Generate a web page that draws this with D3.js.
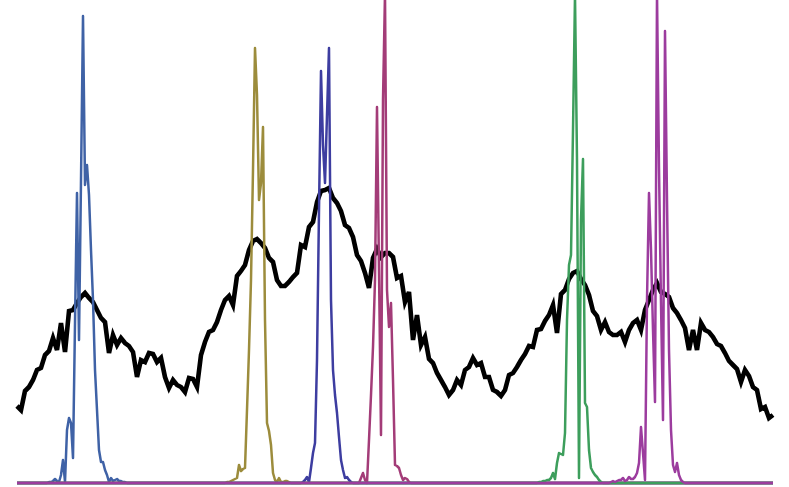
<!DOCTYPE html>
<html>
<head>
<meta charset="utf-8">
<script src="https://cdn.jsdelivr.net/npm/d3@7"></script>
<style>
  html, body { margin: 0; padding: 0; background: #ffffff; }
  svg { display: block; }
</style>
</head>
<body>
<div id="chart"></div>
<script>
// ---- DATA ----
const channelCount = 379;          // channels 0..378
const blackStep = 2;               // black spectrum sampled every 2 channels
const blackCounts = [
  77,73,92,96,103,113,115,128,132,145,
  133,160,131,172,173,180,186,190,185,181,
  173,165,161,130,148,138,145,140,137,131,
  106,123,121,130,129,121,125,106,95,103,
  98,96,91,105,104,96,128,141,151,153,
  161,173,183,187,178,207,212,218,233,242,
  244,240,235,225,221,203,197,197,201,206,
  210,238,236,256,261,281,292,293,295,285,
  280,272,258,255,246,228,222,210,195,225,
  234,226,230,230,226,205,207,181,191,143,
  168,138,146,124,120,110,103,96,88,93,
  103,98,113,116,125,118,120,106,106,93,
  91,87,93,108,110,116,123,129,137,136,
  153,154,162,168,178,150,189,193,204,210,
  212,204,198,188,172,167,153,161,151,148,
  148,151,141,153,160,163,153,173,183,193,
  200,191,189,186,175,170,163,155,133,153,
  133,160,153,151,146,139,137,130,122,118,
  114,101,113,107,96,93,74,76,65,68
];

const blueStart = 14;
const blueCounts = [0,0,1,1,2,4,2,1,8,23,1,53,65,60,25,160,290,143,303,467,298,318,288,233,183,113,73,33,21,21,13,8,1,5,2,3,4,2,2,1,1,0];

const oliveStart = 104;
const oliveCounts = [0,1,1,2,3,4,5,18,12,14,15,73,133,203,313,435,388,283,300,356,163,60,52,38,10,3,1,5,1,1,2,2,1,0];

const indigoStart = 142;
const indigoCounts = [0,1,3,6,1,15,30,40,123,273,412,338,300,368,435,183,113,88,70,46,23,13,5,6,3,1,0];

const crimsonStart = 171;
const crimsonCounts = [0,5,10,3,0,43,88,136,203,376,213,48,383,490,193,156,180,103,18,17,15,8,3,5,4,1,0];

const greenStart = 260;
const greenCounts = [0,1,1,2,2,3,3,5,10,4,20,30,29,28,50,163,218,228,353,488,323,5,263,324,80,76,33,15,11,8,6,3,1,0];

const purpleStart = 295;
const purpleCounts = [0,0,1,2,1,2,3,3,5,2,3,6,4,4,6,10,20,56,30,3,183,290,233,153,81,490,315,180,63,452,283,133,53,18,11,20,8,3,1,0];

const seriesNames = ["blue","olive","indigo","crimson","green","purple"];
const seriesColors = ["#3f62a6","#9c8c3c","#3d3da0","#a33c78","#3d9e5c","#9c3c9e"];
const seriesStarts = [blueStart, oliveStart, indigoStart, crimsonStart, greenStart, purpleStart];
const seriesCounts = [blueCounts, oliveCounts, indigoCounts, crimsonCounts, greenCounts, purpleCounts];

// ---- CHART ----
const width = 789, height = 487;
const svg = d3.select("#chart").append("svg")
  .attr("width", width).attr("height", height)
  .style("background", "#ffffff");

const x = d3.scaleLinear().domain([0, channelCount - 1]).range([17, 773]);
const y = d3.scaleLinear().domain([0, 483]).range([483, 0]);

const line = d3.line()
  .x(d => x(d[0]))
  .y(d => y(d[1]));

// black spectrum
const blackData = blackCounts.map((v, i) => [i * blackStep, v]);
svg.append("path")
  .datum(blackData)
  .attr("d", line)
  .attr("fill", "none")
  .attr("stroke", "#000000")
  .attr("stroke-width", 4.6)
  .attr("stroke-linejoin", "miter");

// coloured peak series, zero outside their segments
seriesCounts.forEach((counts, k) => {
  const full = d3.range(channelCount).map(c => {
    const j = c - seriesStarts[k];
    return [c, (j >= 0 && j < counts.length) ? counts[j] : 0];
  });
  svg.append("path")
    .datum(full)
    .attr("class", "series-" + seriesNames[k])
    .attr("d", line)
    .attr("fill", "none")
    .attr("stroke", seriesColors[k])
    .attr("stroke-width", 2.5)
    .attr("stroke-linejoin", "round");
});
</script>
</body>
</html>
